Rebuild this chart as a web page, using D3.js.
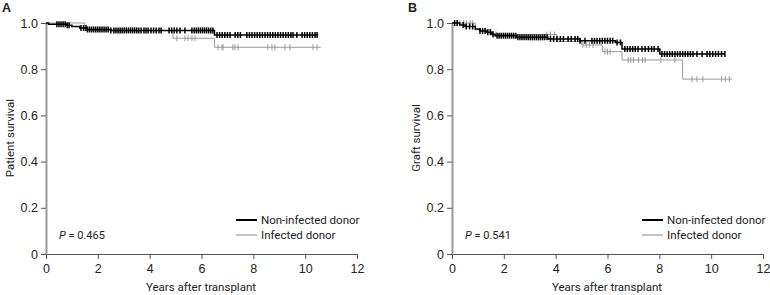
<!DOCTYPE html>
<html>
<head>
<meta charset="utf-8">
<script src="https://cdn.jsdelivr.net/npm/d3@7"></script>
<style>
  body { margin: 0; background: #fff; }
  svg text { fill: #222; }
</style>
</head>
<body>
<div id="chart"></div>
<script>
// Wartości
var xTicks = [0, 2, 4, 6, 8, 10, 12];
var yTicks = [0, 0.2, 0.4, 0.6, 0.8, 1.0];
var seriesNames = ["Non-infected donor", "Infected donor"];

// Panel A - przeżycie pacjenta
var aNonTimes = [0, 0.1, 0.8, 1.0, 1.3, 1.6, 2.5, 6.5];
var aNonSurv  = [1.0, 0.995, 0.99, 0.985, 0.978, 0.972, 0.968, 0.948];
var aNonEnd = 10.5;
var aNonCens = [0.42,0.5,0.58,0.66,0.74,0.82,0.89,1.35,1.45,1.54,1.6,1.68,1.76,1.84,1.92,2.0,2.08,2.16,2.24,2.32,2.4,2.5,
  2.62,2.7,2.78,2.86,2.94,3.02,3.1,3.18,3.26,3.34,3.42,3.5,3.58,3.67,3.78,3.86,3.94,4.05,4.15,4.25,4.36,4.44,4.75,
  4.85,4.95,5.05,5.17,5.36,5.63,5.72,5.8,5.88,5.96,6.04,6.12,6.2,6.28,6.36,6.44,6.6,6.7,6.8,6.9,7.0,7.1,7.3,7.4,7.5,
  7.75,7.85,7.95,8.05,8.15,8.25,8.35,8.45,8.55,8.65,8.75,8.85,8.95,9.05,9.15,9.25,9.35,9.45,9.53,9.68,
  9.88,9.98,10.08,10.18,10.28,10.38,10.46];

var aInfTimes = [0, 1.5, 4.9, 6.5];
var aInfSurv  = [1.0, 0.967, 0.934, 0.895];
var aInfEnd = 10.6;
var aInfCens = [5.05,5.36,5.48,5.63,5.75,6.64,6.79,6.83,7.21,7.29,7.41,8.56,8.72,8.83,9.22,9.41,10.3,10.46];

// Panel B - przeżycie przeszczepu
var bNonTimes = [0, 0.3, 0.5, 0.9, 1.08, 1.35, 1.54, 1.66, 2.5, 3.7, 4.94, 6.3, 6.56, 8.02];
var bNonSurv  = [1.0, 0.991, 0.985, 0.974, 0.965, 0.96, 0.951, 0.945, 0.938, 0.931, 0.923, 0.916, 0.887, 0.866];
var bNonEnd = 10.53;
var bNonCens = [0.1,0.2,0.43,0.55,0.68,0.8,1.08,1.18,1.28,1.38,1.48,1.58,1.74,1.82,1.9,1.98,2.06,2.14,2.22,2.3,2.38,2.46,
  2.54,2.62,2.7,2.78,2.86,2.94,3.02,3.1,3.18,3.26,3.34,3.42,3.5,3.58,3.67,3.8,3.92,4.05,4.18,4.3,4.48,4.6,4.75,4.85,4.94,
  5.13,5.4,5.5,5.6,5.7,5.8,5.9,6.0,6.1,6.2,6.37,6.5,6.67,6.77,6.87,6.97,7.07,7.18,7.33,7.45,7.58,7.7,7.8,7.95,
  8.1,8.2,8.3,8.4,8.5,8.6,8.7,8.8,8.9,9.0,9.1,9.2,9.3,9.45,9.65,9.84,9.95,10.06,10.17,10.28,10.4,10.53];

var bInfTimes = [0, 0.9, 1.5, 4.05, 5.0, 5.8, 6.56, 8.9];
var bInfSurv  = [1.0, 0.97, 0.95, 0.92, 0.905, 0.876, 0.84, 0.757];
var bInfEnd = 10.8;
var bInfCens = [0.1,0.2,0.3,0.45,0.55,0.7,0.8,1.6,1.7,3.66,3.8,3.95,5.05,5.18,5.3,5.44,5.9,6.0,6.1,
  6.8,6.9,7.0,7.2,7.35,7.45,8.06,8.6,9.26,9.45,9.68,10.4,10.55,10.7];

var labelFont = "Roboto, Noto Sans, sans-serif";
var tickFont = "Liberation Sans, Arial, sans-serif";

var svg = d3.select("#chart").append("svg")
  .attr("width", 770)
  .attr("height", 295);

// zamienia kroki na punkty linii schodkowej
function stepData(times, surv, end) {
  var pts = times.map(function(t, i) { return {t: t, s: surv[i]}; });
  pts.push({t: end, s: surv[surv.length - 1]});
  return pts;
}
function survAt(times, surv, t) {
  var s = surv[0];
  for (var i = 0; i < times.length; i++) if (times[i] <= t) s = surv[i];
  return s;
}

function drawPanel(opts) {
  var x = d3.scaleLinear().domain([0, 12]).range([opts.x0, opts.x0 + 311]);
  var y = d3.scaleLinear().domain([0, 1]).range([254, 23]);
  var g = svg.append("g");

  // oś X
  var xa = g.append("g")
    .attr("transform", "translate(0,254)")
    .call(d3.axisBottom(x).tickValues(xTicks).tickSize(5).tickSizeOuter(0).tickFormat(d3.format("d")));
  xa.select(".domain").attr("stroke", "#555").attr("stroke-width", 1.2);
  xa.selectAll(".tick line").attr("stroke", "#555");
  xa.selectAll("text").attr("font-family", tickFont).attr("font-size", 12.5).attr("dy", "0.85em").attr("fill", "#222");

  // oś Y
  var ya = g.append("g")
    .attr("transform", "translate(" + opts.x0 + ",0)")
    .call(d3.axisLeft(y).tickValues(yTicks).tickSize(5).tickSizeOuter(0)
      .tickFormat(function(d) { return d === 0 ? "0" : d3.format(".1f")(d); }));
  ya.select(".domain").attr("stroke", "#999").attr("stroke-width", 2);
  ya.selectAll(".tick line").attr("stroke", "#555");
  ya.selectAll("text").attr("font-family", tickFont).attr("font-size", 12.5).attr("fill", "#222");

  var line = d3.line()
    .x(function(d) { return x(d.t); })
    .y(function(d) { return y(d.s); })
    .curve(d3.curveStepAfter);

  // najpierw szara krzywa, potem czarna
  [opts.inf, opts.non].forEach(function(sr) {
    g.append("path")
      .datum(stepData(sr.times, sr.surv, sr.end))
      .attr("fill", "none")
      .attr("stroke", sr.color)
      .attr("stroke-width", sr.width)
      .attr("d", line);
    g.selectAll(null)
      .data(sr.cens)
      .enter().append("line")
      .attr("x1", function(d) { return x(d); })
      .attr("x2", function(d) { return x(d); })
      .attr("y1", function(d) { return y(survAt(sr.times, sr.surv, d)) - sr.tick; })
      .attr("y2", function(d) { return y(survAt(sr.times, sr.surv, d)) + sr.tick; })
      .attr("stroke", sr.color)
      .attr("stroke-width", sr.width);
  });

  // tytuł panelu
  svg.append("text")
    .attr("x", opts.x0 - 44).attr("y", 12)
    .attr("font-family", tickFont)
    .attr("font-weight", "bold").attr("font-size", 12.5)
    .text(opts.letter);

  // etykieta osi Y
  svg.append("text")
    .attr("transform", "translate(" + (opts.x0 - 32) + ",138) rotate(-90)")
    .attr("text-anchor", "middle")
    .attr("font-family", labelFont).attr("font-size", 11.5)
    .text(opts.ylabel);

  // etykieta osi X
  svg.append("text")
    .attr("x", opts.x0 + 155).attr("y", 291)
    .attr("text-anchor", "middle")
    .attr("font-family", labelFont).attr("font-size", 11.5)
    .text("Years after transplant");

  // wartość p
  var pt = svg.append("text")
    .attr("x", opts.x0 + 13).attr("y", 239)
    .attr("font-family", labelFont).attr("font-size", 11);
  pt.append("tspan").attr("font-style", "italic").text("P");
  pt.append("tspan").text(" = " + opts.p);

  // legenda
  var lg = svg.append("g").attr("transform", "translate(" + (opts.x0 + 190) + ",0)");
  [opts.non, opts.inf].forEach(function(sr, i) {
    var yy = 220 + i * 15;
    lg.append("line").attr("x1", 0).attr("x2", 21).attr("y1", yy).attr("y2", yy)
      .attr("stroke", sr.color).attr("stroke-width", i === 0 ? 2 : 1.2);
    lg.append("text").attr("x", 25).attr("y", yy + 4)
      .attr("font-family", labelFont).attr("font-size", 11.5)
      .text(seriesNames[i]);
  });
}

drawPanel({
  x0: 46, letter: "A", ylabel: "Patient survival", p: "0.465",
  non: {times: aNonTimes, surv: aNonSurv, end: aNonEnd, cens: aNonCens, color: "#000", width: 1.5, tick: 3},
  inf: {times: aInfTimes, surv: aInfSurv, end: aInfEnd, cens: aInfCens, color: "#999", width: 1, tick: 3}
});
drawPanel({
  x0: 452, letter: "B", ylabel: "Graft survival", p: "0.541",
  non: {times: bNonTimes, surv: bNonSurv, end: bNonEnd, cens: bNonCens, color: "#000", width: 1.5, tick: 3},
  inf: {times: bInfTimes, surv: bInfSurv, end: bInfEnd, cens: bInfCens, color: "#999", width: 1, tick: 3}
});
</script>
</body>
</html>
